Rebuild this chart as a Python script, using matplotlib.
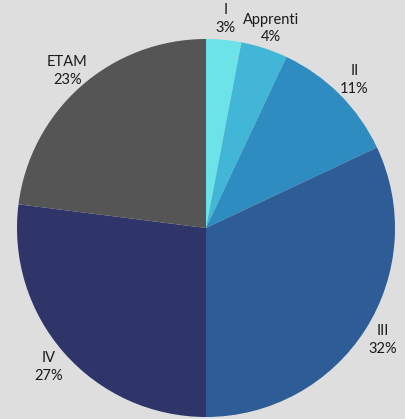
import matplotlib
matplotlib.use("Agg")
import matplotlib.pyplot as plt

categories = ["I", "Apprenti", "II", "III", "IV", "ETAM"]
values = [3, 4, 11, 32, 27, 23]
colors = ["#6be3e8", "#42b6d6", "#2e8cc0", "#2e5c96", "#2f3469", "#555555"]

bg = "#dedede"
fig = plt.figure(figsize=(4.06, 4.19), dpi=100, facecolor=bg)
ax = fig.add_axes([0, 0, 1, 1])
ax.set_facecolor(bg)

labels = [f"{c}\n{v}%" for c, v in zip(categories, values)]
wedges, texts = ax.pie(values, labels=labels, colors=colors, startangle=90,
                       counterclock=False, radius=1.0, labeldistance=1.11,
                       wedgeprops=dict(linewidth=0),
                       textprops=dict(fontsize=10.5, family="Lato", color="#1a1a1a",
                                      linespacing=1.35))
for t in texts:
    t.set_ha("center")
    t.set_va("center")

r = 189.0
ax.set_xlim(-206 / r, 200 / r)
ax.set_ylim(-191 / r, 228 / r)
ax.set_aspect("equal", adjustable="datalim")
ax.axis("off")
fig.savefig("out.png", dpi=100, facecolor=bg)
